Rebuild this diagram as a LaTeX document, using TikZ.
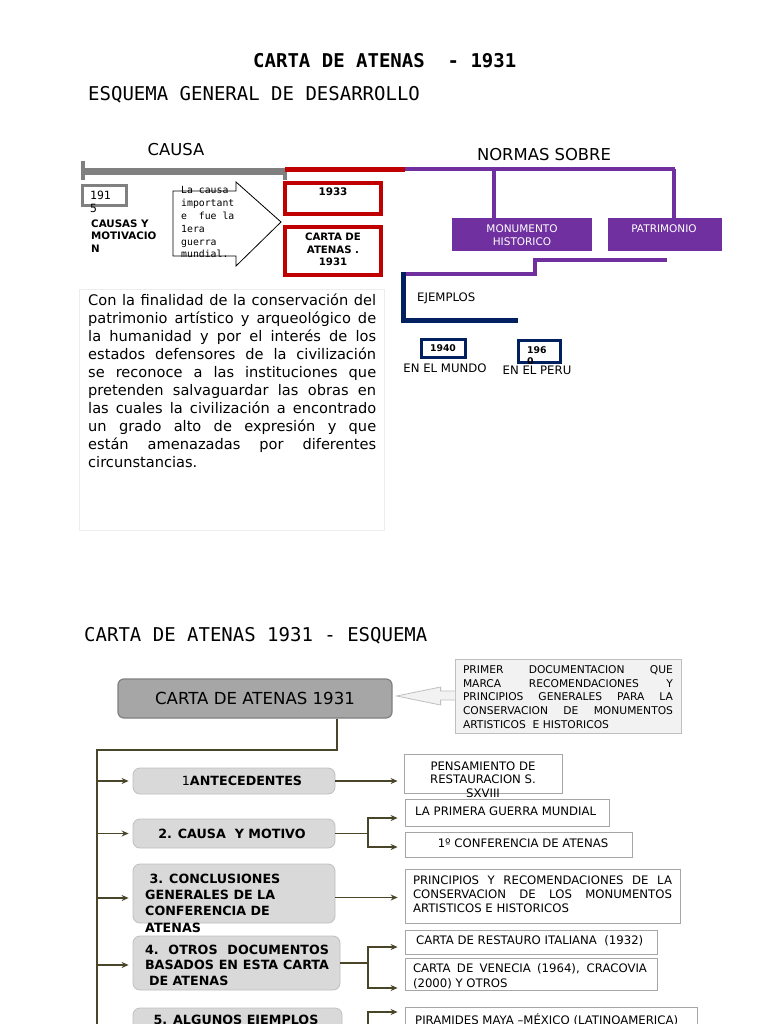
\documentclass[tikz,border=0pt]{standalone}
\usepackage{fontspec}
\setmainfont{DejaVu Sans}
\setmonofont{DejaVu Sans Mono}
\usepackage{xcolor}
\usepackage{tikz}
\usetikzlibrary{arrows.meta,positioning,calc}
\definecolor{causagray}{RGB}{128,128,128}
\definecolor{cartared}{RGB}{192,0,0}
\definecolor{normpurple}{RGB}{112,48,160}
\definecolor{ejnavy}{RGB}{0,32,96}
\definecolor{linkolive}{RGB}{73,69,41}
\definecolor{lvlfill}{RGB}{217,217,217}
\definecolor{lvledge}{RGB}{191,191,191}
\definecolor{headfill}{RGB}{166,166,166}
\definecolor{notefill}{RGB}{242,242,242}

\tikzset{
	titlemono/.style={anchor=west,inner sep=0pt,font=\ttfamily\fontsize{19}{22}\selectfont},
	bigword/.style={inner sep=0pt,font=\fontsize{16.4}{19}\selectfont},
	smallword/.style={inner sep=0pt,font=\fontsize{11.7}{13.5}\selectfont},
	redbox/.style={draw=cartared,line width=4pt},
	navybox/.style={draw=ejnavy,line width=3pt},
	purplebox/.style={fill=normpurple},
	purpletext/.style={inner sep=0pt,text=white,align=center,font=\fontsize{10.5}{13}\selectfont},
	headbox/.style={draw=black!50,fill=headfill,rounded corners=6pt,line width=1.2pt,font=\fontsize{16.6}{19}\selectfont},
	levelbox/.style={draw=lvledge,fill=lvlfill,rounded corners=7pt,line width=0.8pt},
	leveltext/.style={inner sep=0pt,font=\bfseries\fontsize{12.7}{15.5}\selectfont},
	itembox/.style={draw=black!35,line width=0.8pt},
	itemtext/.style={inner sep=0pt,font=\fontsize{11.7}{13.5}\selectfont},
	justtext/.style={align=justify,execute at begin node={\tolerance=10000\hbadness=10000}},
	link/.style={draw=linkolive,line width=1.8pt},
	linkarrow/.style={link,-{Stealth[length=7pt,width=6pt]}},
}

\begin{document}
\begin{tikzpicture}[x=1pt,y=-1pt]
	\useasboundingbox (0,0) rectangle (768,1024);
	\clip (0,0) rectangle (768,1024);
	\fill[white] (0,0) rectangle (768,1024);

	\node[titlemono,font=\ttfamily\bfseries\fontsize{19}{22}\selectfont] (titulo) at (253,61) {CARTA DE ATENAS\ \ - 1931};
	\node[titlemono] (esquema) at (88,95) {ESQUEMA GENERAL DE DESARROLLO};

	\node[bigword] (causatitle) at (176,150) {CAUSA};
	\node[bigword] (normas) at (544,155) {NORMAS SOBRE};

	\draw[causagray,line width=6.5pt] (83,171.5) -- (285,171.5);
	\draw[causagray,line width=4pt] (83,161) -- (83,180);
	\draw[causagray,line width=4pt] (285,171) -- (285,180);
	\draw[cartared,line width=4.5pt] (285,169.5) -- (405,169.5);
	\draw[normpurple,line width=4pt] (405,169.5) -- (675,169.5);
	\draw[normpurple,line width=4pt] (494,169.5) -- (494,218);
	\draw[normpurple,line width=4pt] (674,169.5) -- (674,218);

	\node[draw=causagray,line width=3pt,minimum width=44pt,minimum height=20pt] (anio) at (104.5,196) {};
	\node[anchor=north west,inner sep=0pt,align=left,font=\ttfamily\fontsize{11.4}{13}\selectfont] (aniotext) at (90,191) {191\\5};
	\node[anchor=north west,inner sep=0pt,align=left,font=\bfseries\fontsize{10.3}{12.5}\selectfont] (causas) at (91,219.5) {CAUSAS Y\\MOTIVACIO\\N};

	\draw[line width=0.8pt] (173,191) -- (236,191) -- (236,182) -- (281,222) -- (236,266) -- (236,256) -- (173,256) -- cycle;
	\node[anchor=north west,inner sep=0pt,align=left,font=\ttfamily\fontsize{9.8}{12.8}\selectfont] (causatext) at (181,186.5) {La causa\\important\\e\ \ fue la\\1era\\guerra\\mundial.};

	\node[redbox,minimum width=96pt,minimum height=31pt] (r1933) at (333,198.5) {};
	\node[inner sep=0pt,font=\bfseries\fontsize{10.4}{12}\selectfont] (t1933) at (333,192) {1933};
	\node[redbox,minimum width=96pt,minimum height=48pt] (rcarta) at (333,251) {};
	\node[inner sep=0pt,align=center,font=\bfseries\fontsize{10.2}{12.5}\selectfont] (tcarta) at (333,249.5) {CARTA DE\\ATENAS .\\1931};

	\node[purplebox,minimum width=140pt,minimum height=33pt] (monu) at (522,234.5) {};
	\node[purpletext,anchor=north] (monutext) at (522,225) {MONUMENTO\\HISTORICO};
	\node[purplebox,minimum width=114pt,minimum height=33pt] (patri) at (665,234.5) {};
	\node[purpletext] (patritext) at (664,229) {PATRIMONIO};

	\draw[normpurple,line width=4.5pt] (667,260) -- (535,260) -- (535,274) -- (403,274);
	\draw[ejnavy,line width=5pt] (403,272) -- (403,320) -- (518,320);

	\node[smallword,anchor=west] (ejem) at (417,298) {EJEMPLOS};
	\node[navybox,minimum width=44pt,minimum height=18pt,font=\bfseries\fontsize{9.3}{11}\selectfont] (b1940) at (443,348) {1940};
	\node[smallword] (mundo) at (445,368) {EN EL MUNDO};
	\node[navybox,minimum width=42pt,minimum height=22pt] (b1960) at (539,351) {};
	\node[anchor=north west,inner sep=0pt,align=left,font=\bfseries\fontsize{9.3}{11}\selectfont] (t1960) at (527,346.5) {196\\0};
	\node[smallword] (peru) at (537,370) {EN EL PERU};

	\node[draw=black!7,minimum width=305pt,minimum height=241pt] (parbox) at (231.5,409.5) {};
	\node[anchor=north west,inner sep=0pt,text width=288pt,justtext,font=\fontsize{14.6}{18}\selectfont] (partext) at (88,294) {Con la finalidad de la conservación del\linebreak patrimonio artístico y arqueológico de\linebreak la humanidad y por el interés de los\linebreak estados defensores de la civilización\linebreak se reconoce a las instituciones que\linebreak pretenden salvaguardar las obras en\linebreak las cuales la civilización a encontrado\linebreak un grado alto de expresión y que\linebreak están amenazadas por diferentes\linebreak circunstancias.};

	\node[titlemono] (esquema2) at (84,636) {CARTA DE ATENAS 1931 - ESQUEMA};

	\node[headbox,minimum width=274pt,minimum height=39pt] (head) at (255,698.5) {CARTA DE ATENAS 1931};
	\node[draw=lvledge,fill=notefill,line width=0.8pt,minimum width=226pt,minimum height=74pt] (nota) at (568,696) {};
	\filldraw[fill=notefill,draw=lvledge,line width=0.8pt] ($(nota.west)+(0.5,-5)$) -- ($(nota.west)+(-14,-5)$) -- ($(nota.west)+(-14,-9)$) -- ($(nota.west)+(-58,0)$) -- ($(nota.west)+(-14,9)$) -- ($(nota.west)+(-14,4)$) -- ($(nota.west)+(0.5,4)$);
	\node[inner sep=0pt,text width=210pt,justtext,font=\fontsize{10.7}{13.75}\selectfont] (notatext) at (568,697) {PRIMER DOCUMENTACION QUE\linebreak MARCA RECOMENDACIONES Y\linebreak PRINCIPIOS GENERALES PARA LA\linebreak CONSERVACION DE MONUMENTOS\linebreak ARTISTICOS\ \ E HISTORICOS};

	\node[levelbox,minimum width=202pt,minimum height=26pt] (lvlante) at (234,781) {};
	\node[leveltext] (tante) at (242,781) {{\mdseries 1}ANTECEDENTES};
	\node[levelbox,minimum width=202pt,minimum height=29pt] (lvlcausa) at (234,833.5) {};
	\node[leveltext] (tcausa) at (232,833.5) {2. CAUSA\ \ Y MOTIVO};
	\node[levelbox,minimum width=202pt,minimum height=59pt] (lvlconcl) at (234,893.5) {};
	\node[leveltext,anchor=north west,align=left,font=\bfseries\fontsize{12.7}{16.3}\selectfont] (tconcl) at (145,873.5) {\ 3. CONCLUSIONES\\GENERALES DE LA\\CONFERENCIA DE\\ATENAS};
	\node[levelbox,minimum width=207pt,minimum height=54pt] (lvlotros) at (236.5,963) {};
	\node[leveltext,text width=184pt,justtext] (totros) at (237,965) {4.\ \ OTROS\ \ DOCUMENTOS\linebreak BASADOS EN ESTA CARTA\linebreak\hspace*{4pt}DE ATENAS};
	\node[levelbox,minimum width=209pt,minimum height=42pt] (lvlejem) at (237.5,1029) {};
	\node[leveltext] (tejem) at (236,1021) {5. ALGUNOS EJEMPLOS};

	\node[itembox,minimum width=158pt,minimum height=39pt] (itpens) at (483,773.5) {};
	\node[itemtext,anchor=north,align=center] (tpens) at (483,761.5) {PENSAMIENTO DE\\RESTAURACION S.\\SXVIII};
	\node[itembox,minimum width=204pt,minimum height=27pt] (itguerra) at (507,812.5) {};
	\node[itemtext,anchor=west] (tguerra) at (415,811) {LA PRIMERA GUERRA MUNDIAL};
	\node[itembox,minimum width=227pt,minimum height=25pt] (itconf) at (518.5,844.5) {};
	\node[itemtext] (tconf) at (523,843) {1º CONFERENCIA DE ATENAS};
	\node[itembox,minimum width=275pt,minimum height=54pt] (itprinc) at (542.5,896) {};
	\node[itemtext,text width=259pt,justtext,font=\fontsize{11.7}{14}\selectfont] (tprinc) at (542.5,894.5) {PRINCIPIOS Y RECOMENDACIONES DE LA\linebreak CONSERVACION DE LOS MONUMENTOS\linebreak ARTISTICOS E HISTORICOS};
	\node[itembox,minimum width=252pt,minimum height=24pt] (itrest) at (531,942) {};
	\node[itemtext,anchor=west] (trest) at (416,941) {CARTA DE RESTAURO ITALIANA\ \ (1932)};
	\node[itembox,minimum width=252pt,minimum height=32pt] (itvene) at (531,974) {};
	\node[itemtext,text width=234pt,justtext,font=\fontsize{11.7}{15}\selectfont] (tvene) at (530,976) {CARTA DE VENECIA (1964), CRACOVIA\linebreak (2000) Y OTROS};
	\node[itembox,minimum width=292pt,minimum height=33pt] (itpira) at (551,1023.5) {};
	\node[itemtext,anchor=west] (tpira) at (415,1020) {PIRAMIDES MAYA –MÉXICO (LATINOAMERICA)};

	\coordinate (drop) at (337,750);
	\coordinate (trunk) at (97,750);
	\coordinate (conclin) at ([yshift=-4.5pt]lvlconcl.west);
	\coordinate (otrosin) at ([yshift=-2pt]lvlotros.west);
	\draw[link] (head.south -| drop) -- (drop) -- (trunk) -- (97,1030);
	\draw[linkarrow,shorten >=4pt] (trunk |- lvlante.west) -- (lvlante.west);
	\draw[linkarrow,shorten >=4pt] (trunk |- lvlcausa.west) -- (lvlcausa.west);
	\draw[linkarrow,shorten >=4pt] (trunk |- conclin) -- (conclin);
	\draw[linkarrow,shorten >=4pt] (trunk |- otrosin) -- (otrosin);

	\draw[linkarrow,shorten >=6pt] (lvlante.east) -- (lvlante.east -| itpens.west);
	\coordinate (fork2) at (368,833.5);
	\draw[link] (lvlcausa.east) -- (fork2);
	\draw[linkarrow,shorten >=7pt] (fork2) |- ([yshift=-5.5pt]itguerra.west);
	\draw[linkarrow,shorten >=7pt] (fork2) |- ([yshift=-2.5pt]itconf.west);
	\coordinate (conclout) at ([yshift=-4pt]lvlconcl.east);
	\draw[linkarrow,shorten >=7pt] (conclout) -- (conclout -| itprinc.west);
	\coordinate (fork4) at (368,963);
	\draw[link] (lvlotros.east) -- (fork4);
	\draw[linkarrow,shorten >=7pt] (fork4) |- ([yshift=-5pt]itrest.west);
	\draw[linkarrow,shorten >=7pt] (fork4) |- ([yshift=-14pt]itvene.west);
	\coordinate (fork5) at (368,1029);
	\draw[link] (lvlejem.east) -- (fork5);
	\draw[linkarrow,shorten >=7pt] (fork5) |- ([yshift=11.5pt]itpira.west);
\end{tikzpicture}
\end{document}
